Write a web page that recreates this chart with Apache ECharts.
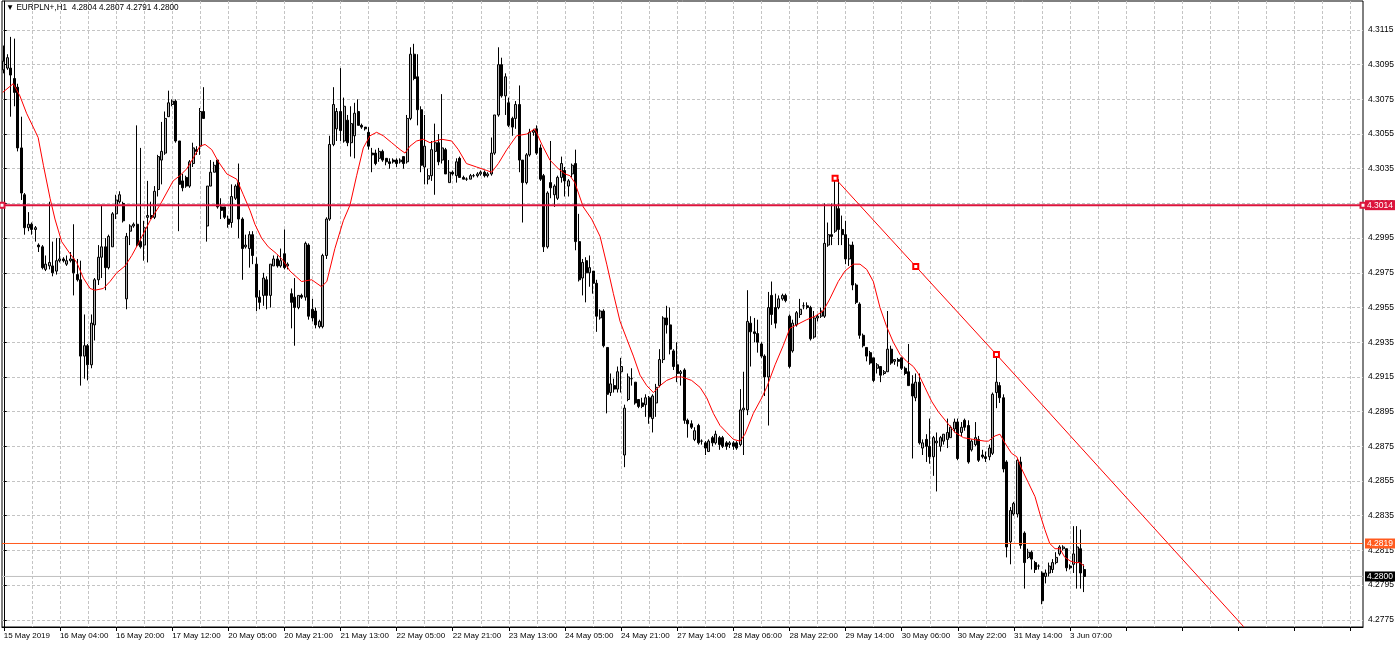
<!DOCTYPE html>
<html><head><meta charset="utf-8">
<script src="https://cdn.jsdelivr.net/npm/echarts@6/dist/echarts.min.js"></script>
<style>html,body{margin:0;padding:0;background:#fff}#c{width:1400px;height:646px}</style>
</head><body><div id="c"></div>
<script>
const titleText = '\u25BC EURPLN+,H1  4.2804 4.2807 4.2791 4.2800';
const timeLabels = ['15 May 2019','16 May 04:00','16 May 20:00','17 May 12:00','20 May 05:00','20 May 21:00','21 May 13:00','22 May 05:00','22 May 21:00','23 May 13:00','24 May 05:00','24 May 21:00','27 May 14:00','28 May 06:00','28 May 22:00','29 May 14:00','30 May 06:00','30 May 22:00','31 May 14:00','3 Jun 07:00'];
const yTicks = [4.2775,4.2795,4.2815,4.2835,4.2855,4.2875,4.2895,4.2915,4.2935,4.2955,4.2975,4.2995,4.3015,4.3035,4.3055,4.3075,4.3095,4.3115];
const gridBars = [0,8,16,24,32,40,48,56,64,72,80,88,96,104,112,120,128,136,144,152,160,168,176,184,192,200,208,216,224,232,240,248,256,264,272,280,288,296,304,312,320,328,336,344,352,360,368,376,384];
const opens = [4.3092,4.3093,4.3093,4.3087,4.3082,4.3047,4.3020,4.3001,4.3003,4.3000,4.2991,4.2990,4.2977,4.2979,4.2979,4.2976,4.2982,4.2983,4.2980,4.2982,4.2983,4.2974,4.2971,4.2927,4.2933,4.2922,4.2945,4.2971,4.2984,4.2990,4.2978,4.2990,4.3009,4.3016,4.3015,4.2960,4.2999,4.3002,4.3003,4.2993,4.2991,4.3007,4.3008,4.3007,4.3023,4.3040,4.3044,4.3065,4.3072,4.3074,4.3051,4.3028,4.3030,4.3025,4.3038,4.3046,4.3048,4.3068,4.3002,4.3025,4.3033,4.3040,4.3013,4.3013,4.3006,4.3004,4.3018,4.3027,4.3006,4.2990,4.2989,4.2997,4.2980,4.2961,4.2962,4.2971,4.2962,4.2979,4.2983,4.2979,4.2986,4.2979,4.2963,4.2961,4.2955,4.2962,4.2961,4.2991,4.2954,4.2953,4.2944,4.2944,4.2985,4.3006,4.3049,4.3058,4.3068,4.3051,4.3063,4.3050,4.3054,4.3068,4.3060,4.3059,4.3056,4.3044,4.3044,4.3041,4.3045,4.3041,4.3039,4.3040,4.3040,4.3039,4.3042,4.3039,4.3064,4.3101,4.3088,4.3069,4.3036,4.3029,4.3031,4.3045,4.3050,4.3040,4.3046,4.3027,4.3033,4.3031,4.3041,4.3030,4.3029,4.3029,4.3031,4.3031,4.3032,4.3033,4.3031,4.3032,4.3044,4.3066,4.3095,4.3077,4.3073,4.3064,4.3064,4.3072,4.3040,4.3027,4.3043,4.3056,4.3058,4.3047,4.3031,4.2990,4.3027,4.3020,4.3018,4.3030,4.3034,4.3025,4.3032,4.3038,4.2993,4.2972,4.2982,4.2975,4.2976,4.2969,4.2949,4.2953,4.2932,4.2906,4.2910,4.2908,4.2918,4.2870,4.2902,4.2914,4.2912,4.2902,4.2900,4.2899,4.2903,4.2891,4.2900,4.2910,4.2925,4.2949,4.2945,4.2930,4.2922,4.2917,4.2919,4.2890,4.2888,4.2879,4.2887,4.2878,4.2877,4.2872,4.2880,4.2877,4.2880,4.2880,4.2877,4.2876,4.2877,4.2877,4.2876,4.2896,4.2896,4.2946,4.2941,4.2940,4.2934,4.2927,4.2915,4.2962,4.2955,4.2955,4.2960,4.2962,4.2950,4.2930,4.2945,4.2951,4.2956,4.2956,4.2955,4.2938,4.2949,4.2950,4.2950,4.2991,4.2997,4.2999,4.3012,4.3000,4.2997,4.2983,4.2991,4.2968,4.2957,4.2939,4.2932,4.2929,4.2926,4.2920,4.2921,4.2917,4.2918,4.2931,4.2924,4.2925,4.2926,4.2920,4.2918,4.2911,4.2903,4.2912,4.2874,4.2879,4.2875,4.2869,4.2877,4.2875,4.2878,4.2879,4.2880,4.2885,4.2889,4.2883,4.2890,4.2887,4.2873,4.2876,4.2879,4.2870,4.2869,4.2869,4.2871,4.2906,4.2910,4.2903,4.2866,4.2820,4.2836,4.2836,4.2866,4.2825,4.2811,4.2814,4.2808,4.2806,4.2802,4.2800,4.2802,4.2804,4.2808,4.2813,4.2816,4.2816,4.2806,4.2807,4.2808,4.2816,4.2804];
const highs = [4.3106,4.3101,4.3111,4.3110,4.3084,4.3065,4.3021,4.3010,4.3004,4.3002,4.2992,4.2991,4.2985,4.3016,4.2993,4.2995,4.2995,4.2984,4.2985,4.2987,4.3003,4.2983,4.2982,4.2951,4.2934,4.2951,4.2972,4.2991,4.3014,4.2995,4.2997,4.3010,4.3020,4.3022,4.3016,4.2998,4.3003,4.3004,4.3060,4.3047,4.3005,4.3028,4.3016,4.3025,4.3043,4.3062,4.3068,4.3080,4.3075,4.3075,4.3051,4.3032,4.3031,4.3040,4.3050,4.3048,4.3070,4.3082,4.3025,4.3040,4.3039,4.3040,4.3018,4.3013,4.3008,4.3026,4.3026,4.3038,4.3007,4.2997,4.2999,4.2999,4.2984,4.2965,4.2975,4.2973,4.2980,4.2985,4.2985,4.2989,4.3000,4.2981,4.2966,4.2972,4.2962,4.2963,4.2993,4.2992,4.2960,4.2955,4.2948,4.2986,4.3007,4.3054,4.3082,4.3070,4.3093,4.3076,4.3066,4.3071,4.3073,4.3075,4.3061,4.3059,4.3059,4.3047,4.3046,4.3047,4.3046,4.3041,4.3041,4.3041,4.3041,4.3041,4.3042,4.3066,4.3105,4.3107,4.3101,4.3071,4.3066,4.3035,4.3051,4.3061,4.3055,4.3078,4.3047,4.3040,4.3034,4.3041,4.3042,4.3031,4.3030,4.3032,4.3032,4.3033,4.3034,4.3034,4.3033,4.3053,4.3066,4.3105,4.3099,4.3090,4.3076,4.3065,4.3074,4.3083,4.3040,4.3044,4.3058,4.3058,4.3060,4.3049,4.3032,4.3022,4.3051,4.3026,4.3031,4.3042,4.3036,4.3029,4.3038,4.3046,4.3009,4.2983,4.2984,4.2985,4.2976,4.2971,4.2954,4.2954,4.2932,4.2917,4.2914,4.2921,4.2926,4.2899,4.2917,4.2920,4.2912,4.2902,4.2903,4.2905,4.2904,4.2905,4.2911,4.2931,4.2950,4.2956,4.2955,4.2931,4.2935,4.2919,4.2920,4.2891,4.2890,4.2886,4.2888,4.2879,4.2878,4.2879,4.2881,4.2884,4.2881,4.2881,4.2878,4.2878,4.2878,4.2878,4.2908,4.2918,4.2965,4.2950,4.2949,4.2948,4.2935,4.2928,4.2964,4.2970,4.2963,4.2962,4.2963,4.2963,4.2951,4.2948,4.2953,4.2960,4.2958,4.2958,4.2956,4.2953,4.2951,4.2955,4.3015,4.3004,4.3015,4.3030,4.3029,4.3008,4.3005,4.2995,4.2993,4.2969,4.2958,4.2940,4.2932,4.2930,4.2926,4.2923,4.2921,4.2919,4.2953,4.2933,4.2925,4.2926,4.2926,4.2921,4.2934,4.2916,4.2917,4.2917,4.2879,4.2882,4.2891,4.2881,4.2883,4.2881,4.2882,4.2891,4.2887,4.2891,4.2891,4.2889,4.2891,4.2890,4.2879,4.2889,4.2881,4.2873,4.2872,4.2876,4.2906,4.2928,4.2912,4.2905,4.2867,4.2840,4.2843,4.2868,4.2869,4.2826,4.2816,4.2815,4.2809,4.2807,4.2803,4.2804,4.2808,4.2810,4.2814,4.2818,4.2818,4.2816,4.2807,4.2829,4.2829,4.2827,4.2807];
const lows = [4.3090,4.3092,4.3065,4.3071,4.3045,4.3017,4.2997,4.2999,4.2997,4.2993,4.2987,4.2977,4.2976,4.2977,4.2973,4.2974,4.2981,4.2981,4.2979,4.2981,4.2962,4.2970,4.2910,4.2914,4.2913,4.2920,4.2936,4.2968,4.2972,4.2965,4.2977,4.2990,4.3006,4.3015,4.3004,4.2954,4.2991,4.3001,4.2990,4.2989,4.2982,4.2981,4.3006,4.3006,4.3019,4.3026,4.3043,4.3065,4.3071,4.3050,4.2999,4.3022,4.3024,4.3024,4.3036,4.3043,4.3043,4.3064,4.2993,4.3025,4.3033,4.3012,4.3006,4.3006,4.3001,4.3001,4.3017,4.2995,4.2971,4.2989,4.2978,4.2980,4.2953,4.2954,4.2956,4.2954,4.2955,4.2979,4.2978,4.2978,4.2977,4.2977,4.2943,4.2933,4.2954,4.2960,4.2959,4.2948,4.2947,4.2943,4.2943,4.2943,4.2983,4.3005,4.3048,4.3051,4.3051,4.3050,4.3048,4.3042,4.3041,4.3060,4.3058,4.3057,4.3046,4.3033,4.3037,4.3039,4.3039,4.3037,4.3035,4.3038,4.3036,4.3038,4.3035,4.3038,4.3063,4.3086,4.3060,4.3033,4.3026,4.3026,4.3028,4.3020,4.3037,4.3038,4.3032,4.3027,4.3031,4.3027,4.3030,4.3029,4.3028,4.3029,4.3030,4.3030,4.3031,4.3030,4.3030,4.3031,4.3043,4.3065,4.3076,4.3066,4.3059,4.3054,4.3058,4.3033,4.3004,4.3026,4.3042,4.3054,4.3043,4.3028,4.2987,4.2989,4.3018,4.3013,4.3017,4.3027,4.3019,4.3019,4.3030,4.2988,4.2970,4.2962,4.2958,4.2967,4.2963,4.2941,4.2948,4.2932,4.2894,4.2904,4.2906,4.2906,4.2906,4.2863,4.2901,4.2910,4.2899,4.2897,4.2897,4.2892,4.2888,4.2883,4.2892,4.2909,4.2923,4.2940,4.2928,4.2919,4.2912,4.2910,4.2888,4.2880,4.2885,4.2878,4.2876,4.2876,4.2870,4.2872,4.2875,4.2876,4.2873,4.2874,4.2873,4.2874,4.2873,4.2873,4.2875,4.2870,4.2893,4.2921,4.2935,4.2929,4.2926,4.2904,4.2887,4.2945,4.2943,4.2954,4.2959,4.2958,4.2920,4.2929,4.2944,4.2949,4.2954,4.2954,4.2936,4.2937,4.2947,4.2949,4.2949,4.2990,4.2991,4.2998,4.2991,4.2991,4.2980,4.2979,4.2965,4.2957,4.2937,4.2932,4.2924,4.2922,4.2912,4.2917,4.2912,4.2916,4.2918,4.2922,4.2922,4.2921,4.2919,4.2916,4.2910,4.2868,4.2901,4.2876,4.2870,4.2866,4.2865,4.2858,4.2849,4.2872,4.2876,4.2874,4.2880,4.2883,4.2867,4.2881,4.2884,4.2865,4.2872,4.2875,4.2866,4.2868,4.2866,4.2867,4.2870,4.2897,4.2900,4.2860,4.2811,4.2807,4.2835,4.2834,4.2816,4.2793,4.2810,4.2804,4.2802,4.2804,4.2784,4.2796,4.2800,4.2802,4.2807,4.2812,4.2815,4.2803,4.2804,4.2802,4.2793,4.2793,4.2791];
const closes = [4.3097,4.3099,4.3089,4.3079,4.3047,4.3021,4.3001,4.3003,4.3000,4.3001,4.2990,4.2978,4.2980,4.2981,4.2975,4.2982,4.2983,4.2982,4.2982,4.2983,4.2975,4.2971,4.2927,4.2933,4.2922,4.2946,4.2971,4.2984,4.2990,4.2978,4.2996,4.3009,4.3017,4.3020,4.3005,4.2996,4.3002,4.3003,4.2991,4.2990,4.3001,4.3008,4.3007,4.3022,4.3042,4.3045,4.3064,4.3073,4.3074,4.3051,4.3026,4.3024,4.3025,4.3039,4.3047,4.3045,4.3068,4.3064,4.3025,4.3033,4.3037,4.3013,4.3011,4.3007,4.3003,4.3019,4.3025,4.3006,4.2989,4.2991,4.2997,4.2985,4.2961,4.2958,4.2972,4.2962,4.2980,4.2983,4.2979,4.2982,4.2978,4.2980,4.2958,4.2955,4.2962,4.2961,4.2992,4.2950,4.2949,4.2945,4.2947,4.2985,4.3006,4.3049,4.3072,4.3068,4.3057,4.3071,4.3050,4.3061,4.3067,4.3060,4.3059,4.3058,4.3048,4.3043,4.3038,4.3045,4.3040,4.3039,4.3038,4.3039,4.3038,4.3040,4.3038,4.3064,4.3101,4.3087,4.3069,4.3037,4.3048,4.3031,4.3046,4.3050,4.3039,4.3047,4.3032,4.3033,4.3032,4.3039,4.3030,4.3029,4.3029,4.3031,4.3031,4.3032,4.3033,4.3031,4.3032,4.3044,4.3066,4.3095,4.3077,4.3088,4.3060,4.3059,4.3072,4.3040,4.3027,4.3043,4.3056,4.3057,4.3044,4.3029,4.2990,4.3021,4.3024,4.3025,4.3030,4.3038,4.3028,4.3028,4.3037,4.2993,4.2971,4.2981,4.2975,4.2978,4.2969,4.2950,4.2953,4.2933,4.2905,4.2911,4.2908,4.2918,4.2921,4.2897,4.2915,4.2914,4.2900,4.2898,4.2898,4.2903,4.2892,4.2904,4.2909,4.2925,4.2949,4.2945,4.2931,4.2921,4.2917,4.2918,4.2890,4.2888,4.2886,4.2884,4.2877,4.2878,4.2874,4.2878,4.2877,4.2882,4.2876,4.2875,4.2875,4.2877,4.2875,4.2874,4.2896,4.2897,4.2947,4.2941,4.2940,4.2935,4.2927,4.2915,4.2955,4.2951,4.2946,4.2960,4.2962,4.2959,4.2921,4.2946,4.2952,4.2954,4.2956,4.2955,4.2937,4.2949,4.2950,4.2953,4.2992,4.2997,4.2996,4.3014,4.3000,4.2997,4.2983,4.2991,4.2968,4.2958,4.2939,4.2933,4.2927,4.2923,4.2913,4.2922,4.2916,4.2918,4.2931,4.2923,4.2925,4.2924,4.2920,4.2917,4.2910,4.2904,4.2912,4.2877,4.2877,4.2875,4.2869,4.2880,4.2878,4.2880,4.2882,4.2883,4.2886,4.2889,4.2868,4.2886,4.2886,4.2866,4.2878,4.2880,4.2867,4.2869,4.2868,4.2874,4.2905,4.2912,4.2903,4.2862,4.2817,4.2838,4.2842,4.2867,4.2818,4.2808,4.2814,4.2810,4.2804,4.2806,4.2786,4.2802,4.2806,4.2808,4.2811,4.2817,4.2817,4.2805,4.2805,4.2813,4.2817,4.2802,4.2800];
const maPoints = [[-0.3,4.3079],[2.7,4.3084],[4.6,4.3077],[6.5,4.3067],[8.4,4.3059],[9.8,4.3053],[11.3,4.3037],[13.2,4.3018],[14.6,4.3006],[16.5,4.2993],[18.9,4.2986],[20.8,4.2981],[22.7,4.2972],[24.6,4.2966],[26.0,4.2965],[28.4,4.2966],[30.3,4.2970],[32.2,4.2975],[34.6,4.2979],[36.5,4.2985],[38.4,4.2992],[41.7,4.3005],[44.5,4.3014],[46.4,4.3021],[48.3,4.3028],[50.2,4.3031],[52.2,4.3035],[54.0,4.3041],[55.9,4.3048],[57.4,4.3049],[59.3,4.3046],[61.2,4.3039],[63.6,4.3032],[66.4,4.3029],[68.3,4.3020],[70.2,4.3011],[71.6,4.3003],[73.5,4.2995],[75.4,4.2990],[77.8,4.2986],[79.7,4.2982],[81.6,4.2976],[84.9,4.2970],[87.8,4.2971],[90.6,4.2967],[92.1,4.2970],[94.4,4.2989],[96.8,4.3005],[98.7,4.3014],[100.6,4.3031],[102.5,4.3047],[104.4,4.3054],[106.3,4.3056],[108.2,4.3054],[110.6,4.3050],[113.0,4.3046],[114.4,4.3044],[115.8,4.3048],[117.7,4.3051],[119.6,4.3052],[121.5,4.3050],[124.8,4.3052],[127.7,4.3051],[129.6,4.3046],[131.9,4.3038],[134.8,4.3036],[137.7,4.3034],[139.1,4.3033],[141.0,4.3038],[143.4,4.3046],[146.2,4.3054],[149.1,4.3055],[151.4,4.3058],[153.4,4.3049],[155.7,4.3040],[158.1,4.3035],[160.0,4.3032],[161.4,4.3031],[162.8,4.3027],[165.2,4.3013],[167.6,4.3006],[170.0,4.2996],[171.9,4.2980],[173.8,4.2963],[175.7,4.2947],[177.6,4.2937],[179.5,4.2927],[181.4,4.2916],[183.3,4.2910],[185.2,4.2906],[187.1,4.2910],[189.0,4.2913],[191.4,4.2915],[193.3,4.2915],[196.1,4.2913],[198.5,4.2909],[200.4,4.2903],[202.3,4.2894],[204.2,4.2887],[206.1,4.2883],[208.0,4.2879],[209.9,4.2878],[211.3,4.2882],[213.7,4.2894],[216.1,4.2903],[217.5,4.2909],[219.9,4.2922],[222.2,4.2933],[224.1,4.2943],[226.0,4.2945],[228.9,4.2948],[231.3,4.2950],[233.6,4.2953],[235.5,4.2960],[237.9,4.2970],[239.8,4.2976],[242.2,4.2980],[244.1,4.2980],[246.0,4.2977],[247.9,4.2970],[249.8,4.2955],[251.7,4.2944],[253.6,4.2935],[255.5,4.2928],[257.4,4.2924],[259.3,4.2921],[260.7,4.2917],[262.6,4.2909],[264.5,4.2901],[266.4,4.2895],[268.8,4.2889],[271.2,4.2883],[273.6,4.2880],[276.4,4.2879],[279.7,4.2878],[280.7,4.2878],[282.6,4.2881],[284.0,4.2882],[285.4,4.2877],[287.3,4.2871],[288.8,4.2869],[290.2,4.2862],[292.1,4.2854],[294.0,4.2846],[295.4,4.2836],[296.8,4.2827],[298.2,4.2819],[299.7,4.2816],[301.1,4.2816],[302.5,4.2811],[304.0,4.2809],[305.4,4.2808],[306.8,4.2808],[308.0,4.2806]];
const trendAnchors = [[237,4.30295],[260,4.29787],[283,4.29279]];
const trendRayEnd = [353.5,4.2771];
const levelRed = 4.3014;
const levelOrange = 4.2819;
const levelBid = 4.2800;

const SLOTS = 388;
const Y_MIN = 4.2770873, Y_MAX = 4.3131680;
const FONT = 'Liberation Sans, Arial, sans-serif';

const slots = Array.from({length: SLOTS}, (_, i) => String(i));
const candles = opens.map((o, i) => [o, closes[i], lows[i], highs[i]]);

function levelSeries(value, color, width, boxColor, withSquares, z) {
  return {
    type: 'line', xAxisIndex: 1, yAxisIndex: 0, silent: true, z: z, clip: false,
    data: [[-0.5, value], [SLOTS - 0.5, value]],
    symbol: withSquares ? 'emptyRect' : 'none', symbolSize: 5, showAllSymbol: true,
    color: color,
    itemStyle: {color: color, borderColor: color},
    lineStyle: {color: color, width: width, type: 'solid', opacity: 1},
    endLabel: {show: true, formatter: value.toFixed(4), color: '#fff',
      backgroundColor: boxColor, padding: [1, 2, 0, 2], fontSize: 8.5, fontFamily: FONT, distance: 2},
    emphasis: {disabled: true}
  };
}

const chart = echarts.init(document.getElementById('c'), null, {renderer: 'canvas'});
chart.setOption({
  animation: false,
  backgroundColor: '#fff',
  title: {text: titleText, left: 6, top: 4, padding: 0,
    textStyle: {fontSize: 8.2, fontWeight: 'normal', color: '#000', fontFamily: FONT}},
  grid: {left: 2, right: 37, top: 1, bottom: 19, show: true, borderColor: '#000', borderWidth: 1,
    backgroundColor: 'transparent', containLabel: false, outerBoundsMode: 'none'},
  xAxis: [
    {type: 'category', data: slots, boundaryGap: true,
      axisLine: {show: true, lineStyle: {color: '#000', width: 1}},
      axisTick: {show: true, alignWithLabel: true, interval: (i) => i % 16 === 0, length: 4, lineStyle: {color: '#000'}},
      axisLabel: {show: true, interval: (i) => i % 16 === 0,
        formatter: (v, i) => (i % 16 === 0 && timeLabels[i / 16]) ? timeLabels[i / 16] : '',
        align: 'left', color: '#000', fontSize: 8, fontFamily: FONT, margin: 5},
      splitLine: {show: false}},
    {type: 'value', min: -0.5, max: SLOTS - 0.5, position: 'top',
      axisLine: {show: false}, axisLabel: {show: false},
      axisTick: {show: false, customValues: gridBars},
      splitLine: {show: true, lineStyle: {color: '#c4c4c4', width: 1, type: [3, 2]}}}
  ],
  yAxis: {type: 'value', position: 'right', min: Y_MIN, max: Y_MAX,
    axisLine: {show: true, lineStyle: {color: '#000', width: 1}},
    axisTick: {show: true, customValues: yTicks, length: 3, lineStyle: {color: '#000'}},
    axisLabel: {show: true, customValues: yTicks, formatter: (v) => v.toFixed(4), color: '#000',
      fontSize: 8.5, fontFamily: FONT, margin: 5},
    splitLine: {show: true, lineStyle: {color: '#c4c4c4', width: 1, type: [3, 2]}}},
  series: [
    levelSeries(levelBid, '#c0c0c0', 1, '#000000', false, 1),
    {type: 'candlestick', xAxisIndex: 0, yAxisIndex: 0, data: candles, barWidth: 2.5, z: 2,
      itemStyle: {color: '#b0b0b0', color0: '#000000', borderColor: '#000000', borderColor0: '#000000',
        borderColorDoji: '#000000', borderWidth: 1},
      emphasis: {disabled: true}},
    {type: 'line', xAxisIndex: 1, yAxisIndex: 0, data: maPoints, symbol: 'none', z: 3,
      lineStyle: {color: '#ff0000', width: 1}, silent: true},
    {type: 'line', xAxisIndex: 1, yAxisIndex: 0, z: 4, silent: true,
      data: trendAnchors.map(p => ({value: p})).concat([{value: trendRayEnd, symbol: 'none'}]),
      symbol: 'emptyRect', symbolSize: 5, showAllSymbol: true,
      lineStyle: {color: '#ff0000', width: 1}, itemStyle: {color: '#ff0000', borderColor: '#ff0000'}},
    levelSeries(levelRed, '#dc143c', 2, '#dc143c', true, 5),
    levelSeries(levelOrange, '#ff5a1e', 1, '#ff5a1e', false, 5)
  ]
});
</script></body></html>
